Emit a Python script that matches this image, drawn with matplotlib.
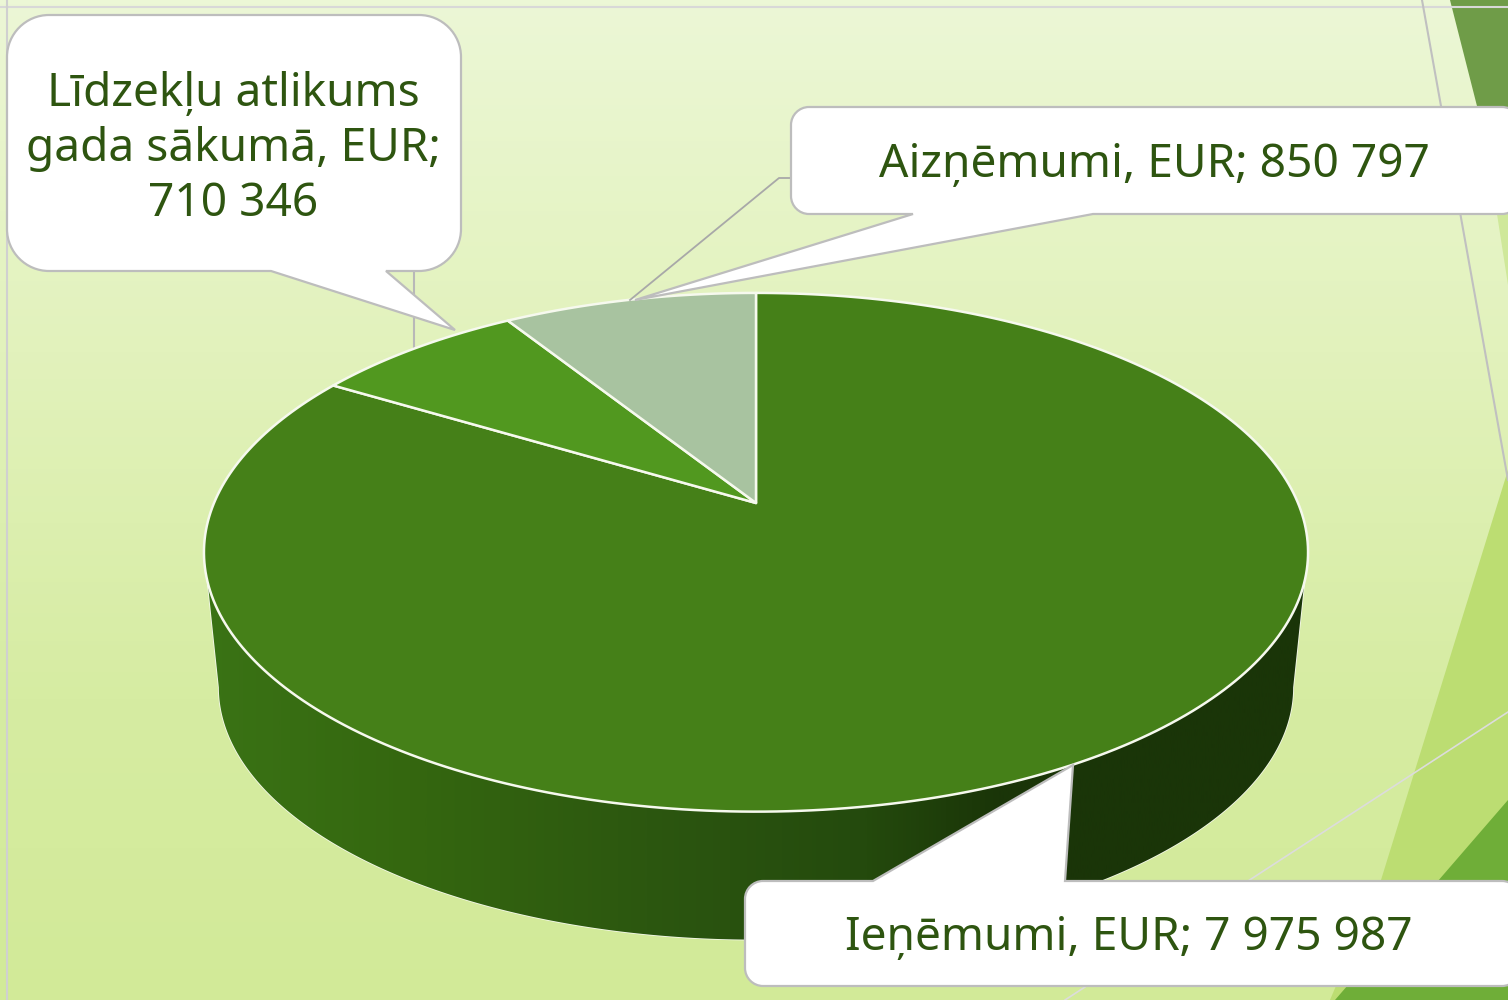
import numpy as np
import matplotlib
matplotlib.use('Agg')
import matplotlib.pyplot as plt
from matplotlib.colors import LinearSegmentedColormap
from matplotlib.patches import Polygon, PathPatch
from matplotlib.path import Path

# data
names = ['Ieņēmumi, EUR', 'Līdzekļu atlikums\ngada sākumā, EUR', 'Aizņēmumi, EUR']
values = [7975987, 710346, 850797]
value_labels = ['7 975 987', '710 346', '850 797']
slice_colors = ['#458018', '#51981f', '#a8c3a0']

plt.rcParams['font.family'] = ['Noto Sans', 'DejaVu Sans']

W, H = 1508, 1000
fig = plt.figure(figsize=(W / 100, H / 100), dpi=100)
ax = fig.add_axes([0, 0, 1, 1])
ax.axis('off')

# slide background
bg = LinearSegmentedColormap.from_list('bg', [(0, '#ecf7d6'), (0.35, '#e2f2bc'), (0.7, '#d6eca2'), (1, '#d2ea98')])
ax.imshow(np.linspace(0, 1, 256).reshape(-1, 1), cmap=bg, extent=[0, W, H, 0], aspect='auto', zorder=0)

ax.add_patch(Polygon([(1508, 470), (1381, 880), (1330, 1000), (1508, 1000)], fc='#bcdd72', ec='none', zorder=1))
ax.add_patch(Polygon([(1508, 800), (1335, 1000), (1508, 1000)], fc='#6fae38', ec='none', zorder=1))
ax.add_patch(Polygon([(1470, 107), (1497, 214), (1508, 285), (1508, 107)], fc='#cfe89a', ec='none', zorder=1))
ax.add_patch(Polygon([(1450, 0), (1508, 0), (1508, 214), (1492, 165)], fc='#6f9c48', ec='none', zorder=1))
ax.plot([0, W], [7, 7], color='#d8d8d8', lw=1.5, zorder=1)
ax.plot([7, 7], [0, H], color='#d0d0d0', lw=1.5, zorder=1)
ax.plot([1422, 1508], [0, 480], color='#c0c0c0', lw=1.5, zorder=1)
ax.plot([1508, 1065], [712, 1000], color='#dcdcdc', lw=1.2, zorder=1)
ax.plot([414, 414], [271, 350], color='#b8b8b8', lw=1.5, zorder=1)

# pie in perspective, angles from the values
cx, cy = 756, 503
a, b, k = 542, 250, 0.19
mid_y = 552
shrink, depth = 0.973, 135


def rim(t):
    u, v = np.sin(t), np.cos(t)
    return cx + a * u / (1 + k * v), cy - b * v / (1 + k * v)


def lower_rim(t):
    x, y = rim(t)
    return cx + shrink * (x - cx), mid_y + shrink * (y - mid_y) + depth


tt = np.linspace(0, 2 * np.pi, 721)
tx, ty = rim(tt)
lx, ly = lower_rim(tt)

# side wall
sel_top = ty >= mid_y + 30
sel_low = ly >= mid_y + depth
top_pts = np.column_stack([tx[sel_top], ty[sel_top]])
low_pts = np.column_stack([lx[sel_low], ly[sel_low]])
side = Polygon(np.vstack([top_pts, low_pts[::-1]]), fc='none', ec='#f4f8ea', lw=1.2, zorder=2)
ax.add_patch(side)
side_cm = LinearSegmentedColormap.from_list('side', [(0, '#3a7315'), (0.2, '#34660f'), (0.4, '#2c5710'),
                                                      (0.6, '#244a0d'), (0.72, '#1a3508'), (1, '#1a3508')])
im = ax.imshow(np.linspace(0, 1, 512).reshape(1, -1), cmap=side_cm, extent=[204, 1308, H, 0], aspect='auto', zorder=2)
im.set_clip_path(side)

# top faces
edges = np.concatenate([[0], np.cumsum(values)]) / np.sum(values) * 2 * np.pi
for i in range(len(values)):
    t = np.linspace(edges[i], edges[i + 1], 300)
    x, y = rim(t)
    pts = np.vstack([[cx, cy], np.column_stack([x, y])])
    ax.add_patch(Polygon(pts, closed=True, fc=slice_colors[i], ec='#f6f9ee', lw=1.8, joinstyle='round', zorder=3))


def callout(x0, x1, y0, y1, r, ptr, side_name):
    # rounded box with a pointer on its top or bottom edge
    q = r * 0.45
    v = [(x0 + r, y0)]
    c = [Path.MOVETO]
    if side_name == 'top':
        v += ptr
        c += [Path.LINETO] * len(ptr)
    v += [(x1 - r, y0), (x1 - q, y0), (x1, y0 + q), (x1, y0 + r), (x1, y1 - r), (x1, y1 - q), (x1 - q, y1), (x1 - r, y1)]
    c += [Path.LINETO] + [Path.CURVE4] * 3 + [Path.LINETO] + [Path.CURVE4] * 3
    if side_name == 'bottom':
        v += ptr
        c += [Path.LINETO] * len(ptr)
    v += [(x0 + r, y1), (x0 + q, y1), (x0, y1 - q), (x0, y1 - r), (x0, y0 + r), (x0, y0 + q), (x0 + q, y0), (x0 + r, y0)]
    c += [Path.LINETO] + [Path.CURVE4] * 3 + [Path.LINETO] + [Path.CURVE4] * 3
    ax.add_patch(PathPatch(Path(v, c), fc='white', ec='#bdbdbd', lw=1.6, zorder=5))


ax.plot([791, 779, 630], [178, 178, 300], color='#a8a8a8', lw=1.3, zorder=4)
callout(7, 461, 15, 271, 42, [(386, 271), (455, 330), (271, 271)], 'bottom')
callout(791, 1520, 107, 214, 18, [(1093, 214), (635, 300), (913, 214)], 'bottom')
callout(745, 1520, 881, 986, 18, [(873, 881), (1073, 765), (1065, 881)], 'top')

txt = dict(color='#2e5510', fontsize=33.2, ha='center', va='center', zorder=6)
ax.text(233, 149, names[1] + ';\n' + value_labels[1], linespacing=1.25, **txt)
ax.text(1154, 165, names[2] + '; ' + value_labels[2], **txt)
ax.text(1129, 938, names[0] + '; ' + value_labels[0], **txt)

ax.set_xlim(0, W)
ax.set_ylim(H, 0)
fig.savefig('out.png', dpi=100)
